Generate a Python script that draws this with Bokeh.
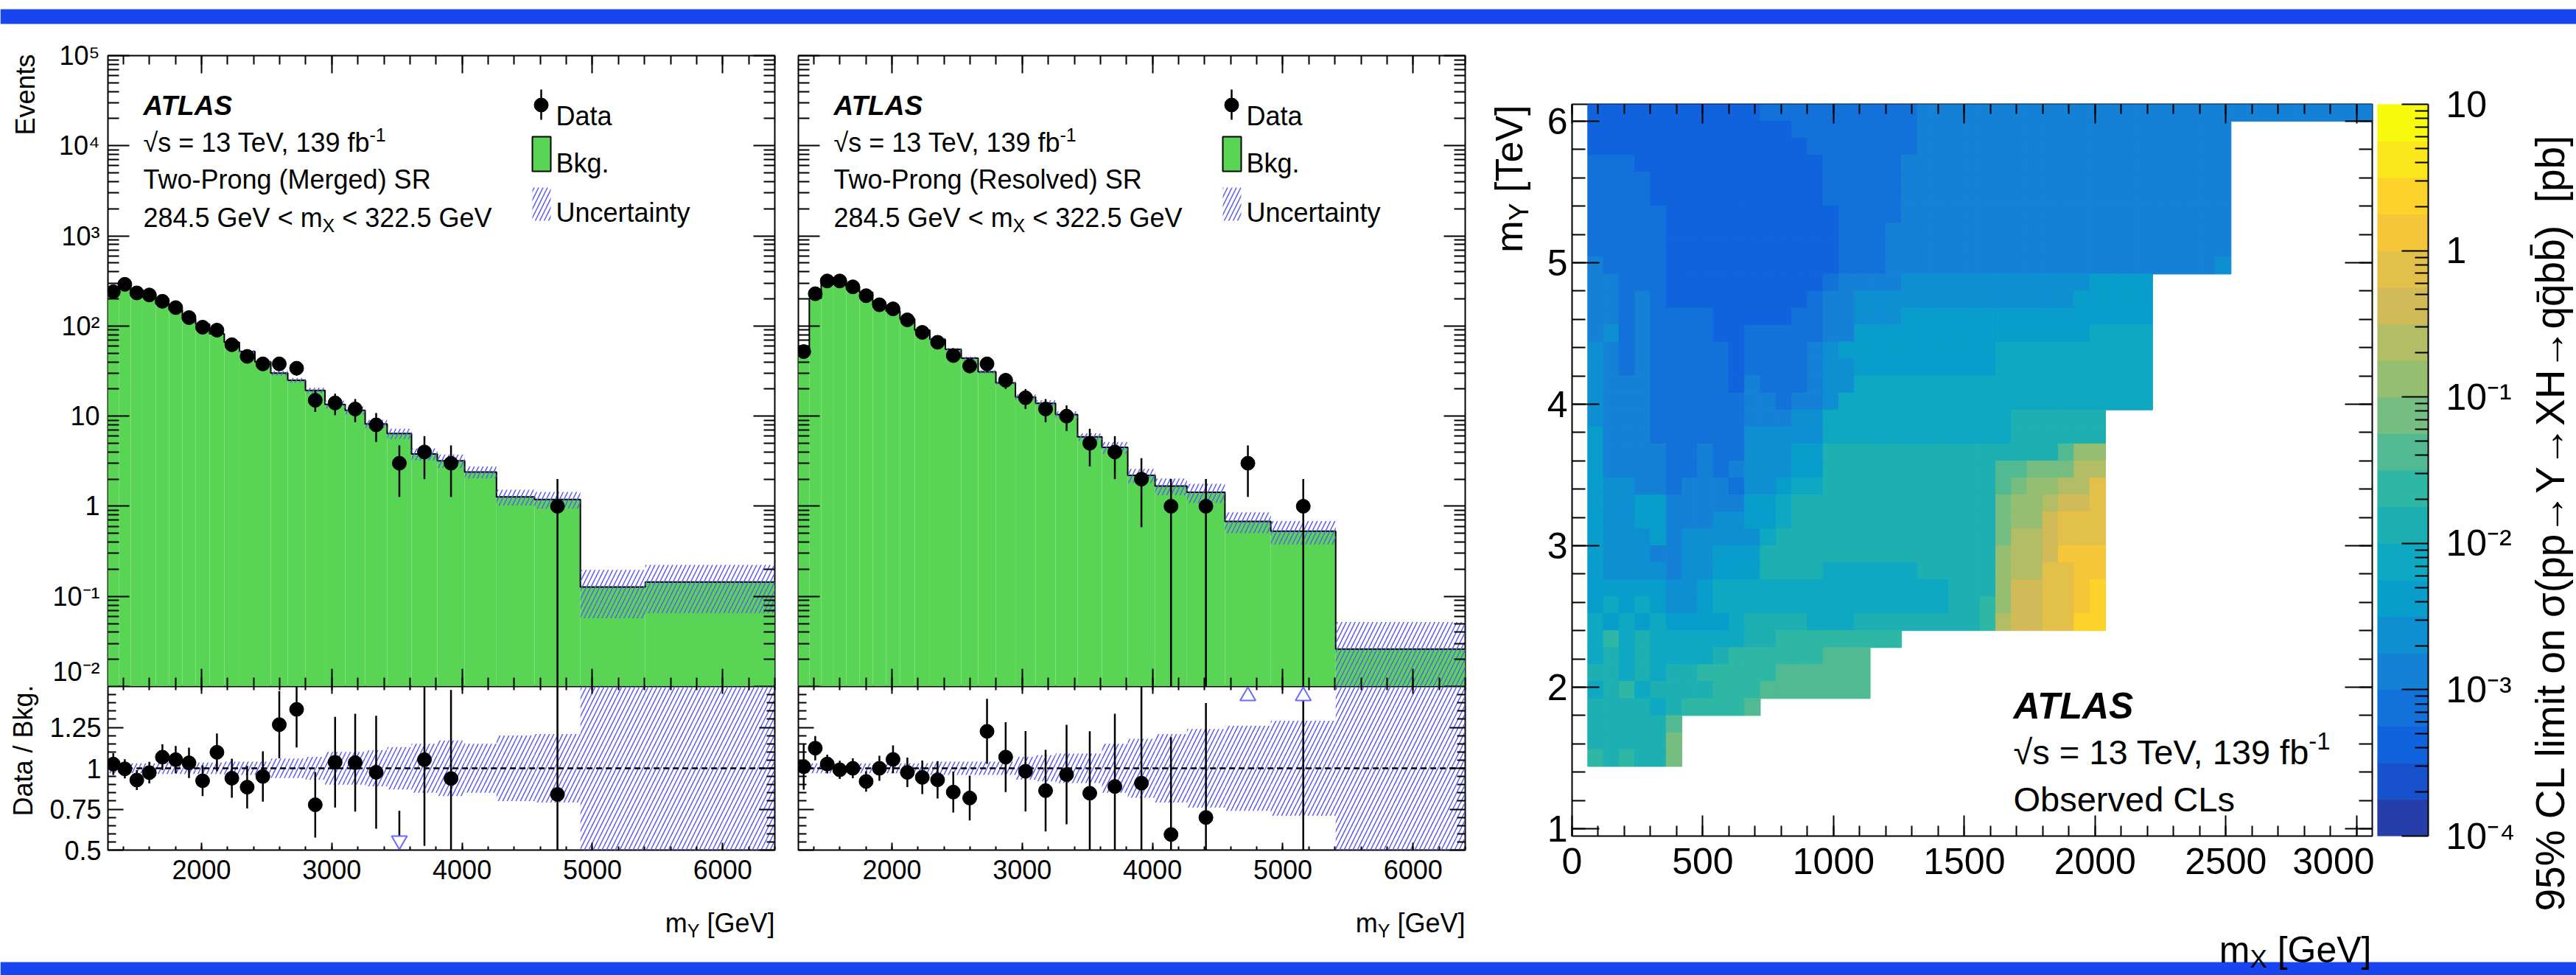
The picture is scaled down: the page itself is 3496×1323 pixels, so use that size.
import math
import os
import glob

from bokeh.plotting import figure
from bokeh.models import (Range1d, LinearScale, LinearAxis, LogAxis, FixedTicker,
                          SingleIntervalTicker, CustomJSTickFormatter, Label,
                          LogColorMapper, ColumnDataSource, GridBox)
from bokeh.layouts import row, column
from bokeh.embed import file_html
from bokeh.resources import INLINE

# ============================ data ============================
MY_BIN_EDGES = [1280, 1366, 1457, 1550, 1649, 1751, 1853, 1955, 2062, 2175, 2291, 2410, 2532,
                2662, 2798, 2948, 3103, 3256, 3425, 3612, 3810, 4020, 4264, 4556, 4908, 5406, 6400]

MERGED_DATA = [240, 290, 233, 221, 188, 160, 124, 97, 90, 62, 46, 38, 38, 34, 15, 14, 12, 8, 3, 4,
               3, 0, 0, 1, 0, 0]
MERGED_BKG = [234, 291, 251, 227, 176, 152, 120, 105, 82, 66, 52, 40, 30, 25, 19.3, 13.5, 11.6,
              8.2, 6.4, 3.8, 3.2, 2.4, 1.27, 1.19, 0.127, 0.144]
MERGED_UNC = [0.03, 0.03, 0.03, 0.03, 0.035, 0.035, 0.035, 0.035, 0.035, 0.04, 0.04, 0.04, 0.06,
              0.06, 0.07, 0.10, 0.10, 0.11, 0.13, 0.15, 0.17, 0.15, 0.20, 0.21, 0.55, 0.55]

RESOLVED_DATA = [52, 228, 316, 316, 272, 217, 172, 155, 117, 85, 66, 47, 36, 38, 25, 16, 12, 10,
                 5, 4, 2, 1, 1, 3, 1, 0]
RESOLVED_BKG = [51.5, 203, 308, 319, 272, 236, 172, 147, 120, 90, 71, 55, 44, 31, 23.4, 16.3,
                13.9, 10.4, 5.9, 4.5, 2.2, 1.68, 1.43, 0.68, 0.53, 0.026]
RESOLVED_UNC = [0.03, 0.03, 0.03, 0.03, 0.03, 0.03, 0.03, 0.03, 0.03, 0.03, 0.04, 0.04, 0.04,
                0.04, 0.04, 0.07, 0.08, 0.09, 0.09, 0.15, 0.18, 0.21, 0.24, 0.26, 0.29, 1.0]

HIST_X_RANGE = (1282, 6400)
MAIN_Y_RANGE = (1e-2, 1e5)
RATIO_Y_RANGE = (0.5, 1.5)

# 2D limit map: cells of 60 GeV (m_X) x 0.12 TeV (m_Y); each row (top row first) is a list of
# (colour level, number of cells) runs starting at the first m_X cell; the rest of a row is empty.
# level k means a limit between 10^(-4 + k/4) and 10^(-4 + (k+1)/4) pb.
MX_FIRST_EDGE = 60.0
MX_BIN_WIDTH = 60.0
MY_TOP_EDGE = 6.12
MY_BIN_WIDTH = 0.12
HEAT_X_RANGE = (0, 3060)
HEAT_Y_RANGE = (0.948, 6.12)
LIMIT_RANGE = (1e-4, 10.0)
LEVELS_PER_DECADE = 4
HEAT_RUNS = [
    [(2, 11), (3, 10), (4, 29)],
    [(2, 13), (3, 8), (4, 20)],
    [(2, 14), (3, 7), (4, 20)],
    [(3, 3), (2, 12), (3, 5), (4, 21)],
    [(3, 4), (2, 11), (3, 5), (4, 21)],
    [(3, 4), (2, 11), (3, 5), (4, 21)],
    [(3, 5), (2, 11), (3, 4), (4, 21)],
    [(3, 5), (2, 11), (3, 3), (4, 22)],
    [(3, 5), (2, 11), (3, 3), (4, 22)],
    [(4, 1), (3, 4), (2, 11), (3, 3), (4, 21), (5, 1)],
    [(4, 2), (3, 3), (2, 10), (3, 1), (4, 4), (5, 12), (6, 4)],
    [(4, 2), (3, 1), (4, 1), (3, 1), (2, 9), (3, 1), (4, 2), (5, 14), (6, 5)],
    [(4, 2), (3, 1), (4, 1), (3, 4), (2, 5), (3, 2), (4, 2), (5, 3), (6, 16)],
    [(4, 1), (5, 1), (3, 1), (4, 1), (3, 4), (2, 2), (3, 5), (4, 2), (6, 15), (7, 4)],
    [(5, 1), (4, 1), (3, 1), (4, 1), (3, 5), (2, 1), (3, 4), (4, 1), (5, 1), (6, 10), (7, 10)],
    [(5, 1), (4, 1), (3, 1), (4, 1), (3, 5), (2, 1), (3, 4), (4, 1), (5, 2), (6, 9), (7, 10)],
    [(5, 1), (4, 3), (3, 5), (2, 1), (4, 1), (3, 3), (4, 1), (5, 2), (7, 19)],
    [(5, 1), (4, 3), (3, 6), (4, 2), (3, 1), (4, 2), (5, 1), (7, 20)],
    [(5, 1), (4, 3), (3, 6), (4, 3), (5, 2), (7, 12), (8, 6)],
    [(6, 1), (4, 3), (3, 6), (5, 5), (7, 12), (8, 6)],
    [(6, 1), (4, 4), (3, 2), (4, 1), (3, 2), (5, 3), (6, 2), (8, 15), (10, 1), (12, 2)],
    [(6, 1), (4, 4), (3, 2), (4, 1), (3, 1), (4, 1), (5, 3), (6, 2), (8, 11), (10, 2), (11, 3), (13, 2)],
    [(6, 1), (5, 2), (4, 2), (3, 1), (4, 3), (3, 1), (5, 2), (6, 1), (7, 2), (8, 11), (10, 1), (11, 1),
     (12, 2), (13, 2), (15, 1)],
    [(6, 1), (5, 2), (6, 2), (4, 5), (6, 2), (7, 1), (8, 13), (11, 1), (12, 2), (13, 1), (14, 2), (15, 1)],
    [(6, 1), (5, 2), (6, 2), (4, 3), (5, 2), (6, 2), (7, 1), (8, 13), (11, 1), (12, 2), (14, 1), (15, 3)],
    [(6, 1), (5, 3), (6, 1), (4, 1), (5, 5), (7, 1), (8, 14), (11, 1), (13, 2), (14, 1), (15, 3)],
    [(6, 1), (5, 3), (4, 2), (5, 2), (6, 3), (8, 15), (12, 1), (13, 2), (14, 1), (16, 3)],
    [(6, 1), (5, 4), (4, 1), (5, 2), (6, 3), (8, 4), (7, 6), (8, 5), (12, 1), (13, 2), (15, 2), (16, 2)],
    [(6, 5), (5, 2), (6, 1), (7, 15), (8, 3), (12, 1), (14, 2), (15, 2), (16, 1), (17, 1)],
    [(6, 1), (7, 1), (6, 1), (7, 1), (6, 1), (5, 2), (6, 1), (7, 15), (8, 2), (9, 1), (12, 1), (14, 2),
     (15, 2), (16, 1), (17, 1)],
    [(7, 1), (6, 1), (7, 1), (6, 1), (7, 1), (6, 4), (7, 1), (8, 4), (7, 3), (8, 8), (9, 1), (13, 1),
     (14, 2), (15, 2), (17, 2)],
    [(7, 1), (9, 1), (7, 1), (8, 1), (7, 6), (8, 2), (9, 8)],
    [(7, 1), (8, 1), (7, 1), (8, 1), (7, 4), (8, 1), (9, 6), (10, 3)],
    [(8, 2), (7, 1), (8, 1), (7, 1), (8, 2), (9, 5), (10, 6)],
    [(7, 1), (8, 1), (9, 1), (7, 1), (8, 4), (9, 3), (10, 7)],
    [(8, 4), (7, 1), (8, 1), (9, 4), (10, 1)],
    [(8, 5), (10, 1)],
    [(8, 5), (11, 1)],
    [(9, 1), (8, 1), (9, 1), (8, 2), (11, 1)],
]

# ============================ style ============================
FONT = "Liberation Sans"
GREEN = "#59d454"
HATCH = "#5c5cf0"
ARROW = "#6a6aff"
BAND = "#1845f0"
NBSP = "\u00a0"

PAGE_W, PAGE_H = 3496, 1323

BIRD_R = [0.2082, 0.0592, 0.0780, 0.0232, 0.1802, 0.5301, 0.8186, 0.9956, 0.9764]
BIRD_G = [0.1664, 0.3599, 0.5041, 0.6419, 0.7178, 0.7492, 0.7328, 0.7862, 0.9832]
BIRD_B = [0.5293, 0.8684, 0.8385, 0.7914, 0.6425, 0.4662, 0.3499, 0.1968, 0.0539]


def bird(f):
    pos = min(max(f, 0.0), 1.0) * 8
    i = min(int(pos), 7)
    t = pos - i
    c = [(a[i] + (a[i + 1] - a[i]) * t) for a in (BIRD_R, BIRD_G, BIRD_B)]
    return "#%02x%02x%02x" % tuple(int(round(255 * v)) for v in c)


N_LEVELS = int(round(math.log10(LIMIT_RANGE[1] / LIMIT_RANGE[0]) * LEVELS_PER_DECADE))
PALETTE = [bird((k + 1) / N_LEVELS) for k in range(N_LEVELS)]

# ============================ text helpers ============================
_PATHS = {}
_FONTS = {}


def font_path(bold, italic):
    key = (bold, italic)
    if key not in _PATHS:
        style = {(False, False): "Regular", (True, False): "Bold",
                 (False, True): "Italic", (True, True): "BoldItalic"}[key]
        fname = "LiberationSans-%s.ttf" % style
        found = None
        for d in ("/usr/share/fonts", "/usr/local/share/fonts", os.path.expanduser("~/.fonts")):
            hits = glob.glob(os.path.join(d, "**", fname), recursive=True)
            if hits:
                found = hits[0]
                break
        _PATHS[key] = found
    return _PATHS[key]


def tw(text, size, bold=False, italic=False):
    text = text.replace(NBSP, " ")
    try:
        from PIL import ImageFont
        path = font_path(bold, italic)
        if path:
            key = (path, int(round(size)))
            if key not in _FONTS:
                _FONTS[key] = ImageFont.truetype(path, int(round(size)))
            return _FONTS[key].getlength(text)
    except Exception:
        pass
    return 0.56 * size * len(text)


def rich(p, x, y, parts, angle=0.0, align="left"):
    """parts: (text, size, dy, bold, italic); x, y in frame pixels (origin bottom-left)."""
    ws = [tw(t, s, b, i) for (t, s, dy, b, i) in parts]
    along = 0.0 if align == "left" else -sum(ws)
    ca, sa = math.cos(angle), math.sin(angle)
    for (t, s, dy, b, i), w in zip(parts, ws):
        px = x + along * ca - dy * sa
        py = y + along * sa + dy * ca
        style = "bold italic" if (b and i) else ("bold" if b else ("italic" if i else "normal"))
        p.add_layout(Label(x=px, y=py, x_units="screen", y_units="screen", text=t,
                           text_font=FONT, text_font_size="%dpx" % s, text_font_style=style,
                           text_color="black", angle=angle, text_align="left",
                           text_baseline="alphabetic"))
        along += w


def T(text, size, dy=0, bold=False, italic=False):
    return (text, size, dy, bold, italic)


LOG_JS = """
const e = Math.round(Math.log10(tick));
if (e === 0) { return "1"; }
if (e === 1) { return "10"; }
const m = {"-": "\u207b", "0": "\u2070", "1": "\u00b9", "2": "\u00b2", "3": "\u00b3",
           "4": "\u2074", "5": "\u2075", "6": "\u2076", "7": "\u2077", "8": "\u2078", "9": "\u2079"};
let s = "";
for (const ch of String(e)) { s += m[ch]; }
return "10" + s;
"""


def log_fmt():
    return CustomJSTickFormatter(code=LOG_JS)


def num_fmt():
    return CustomJSTickFormatter(code="return String(Math.round(tick*1000)/1000);")


def ticks(ax, major, minor, width=2):
    ax.major_tick_in = major
    ax.major_tick_out = 0
    ax.minor_tick_in = minor
    ax.minor_tick_out = 0
    ax.major_tick_line_color = "black"
    ax.minor_tick_line_color = "black"
    ax.major_tick_line_width = width
    ax.minor_tick_line_width = width
    ax.axis_line_color = None
    ax.axis_label = None


def no_labels(ax):
    ax.major_label_text_alpha = 0.0
    ax.major_label_text_font_size = "0px"
    ax.major_label_standoff = 0
    ax.formatter = CustomJSTickFormatter(code="return '';")


def labels(ax, size, standoff, fmt):
    ax.formatter = fmt
    ax.major_label_text_font = FONT
    ax.major_label_text_font_size = "%dpx" % size
    ax.major_label_text_color = "black"
    ax.major_label_standoff = standoff


def base(p):
    p.grid.visible = False
    p.outline_line_color = "black"
    p.outline_line_width = 2
    p.background_fill_color = "white"
    p.border_fill_color = "white"


def log_ticker(lo_exp, hi_exp):
    major = [10.0 ** k for k in range(lo_exp, hi_exp + 1)]
    minor = [m * 10.0 ** k for k in range(lo_exp, hi_exp) for m in range(2, 10)]
    return FixedTicker(ticks=major, minor_ticks=minor)


LOG_LO = int(round(math.log10(MAIN_Y_RANGE[0])))
LOG_HI = int(round(math.log10(MAIN_Y_RANGE[1])))

# ============================ layout geometry (pixels) ============================
TOP_BAND_H = 40
BOTTOM_BAND_H = 23
MAIN_H, MAIN_BT = 891, 35
RATIO_H, RATIO_BB = 369, 147
MAIN_FH = MAIN_H - MAIN_BT
RATIO_FH = RATIO_H - RATIO_BB


def main_panel(data, bkg, unc, region, fig_w, bl, br, first, x_range):
    fw = fig_w - bl - br
    fh = MAIN_FH
    p = figure(width=fig_w, height=MAIN_H, x_range=x_range, y_range=Range1d(*MAIN_Y_RANGE),
               y_axis_type="log", output_backend="svg", toolbar_location=None, title=None,
               min_border_left=bl, min_border_right=br, min_border_top=MAIN_BT, min_border_bottom=0)
    base(p)
    xa = p.xaxis[0]
    xa.ticker = SingleIntervalTicker(interval=1000, num_minor_ticks=5)
    ticks(xa, 24, 12)
    no_labels(xa)
    ya = p.yaxis[0]
    ya.ticker = log_ticker(LOG_LO, LOG_HI)
    ticks(ya, 29, 15)
    if first:
        labels(ya, 36, 11, log_fmt())
    else:
        no_labels(ya)
    top = LinearAxis(ticker=SingleIntervalTicker(interval=1000, num_minor_ticks=5))
    ticks(top, 24, 12)
    no_labels(top)
    p.add_layout(top, "above")
    right = LogAxis(ticker=log_ticker(LOG_LO, LOG_HI))
    ticks(right, 29, 15)
    no_labels(right)
    p.add_layout(right, "right")

    n = len(bkg)
    left_e = MY_BIN_EDGES[:-1]
    right_e = MY_BIN_EDGES[1:]
    floor = MAIN_Y_RANGE[0] / 100
    p.quad(left=left_e, right=right_e, bottom=[floor] * n, top=bkg, fill_color=GREEN, line_color=None)
    p.step(x=MY_BIN_EDGES, y=list(bkg) + [bkg[-1]], mode="after", line_color="black", line_width=2)
    p.quad(left=left_e, right=right_e,
           bottom=[max(b * (1 - u), floor) for b, u in zip(bkg, unc)],
           top=[b * (1 + u) for b, u in zip(bkg, unc)],
           fill_color=None, line_color=None, hatch_pattern="/", hatch_color=HATCH,
           hatch_weight=1.5, hatch_scale=12)
    xs = [(a + b) / 2 for a, b, d in zip(left_e, right_e, data) if d > 0]
    ys = [d for d in data if d > 0]
    p.segment(x0=xs, y0=[max(d - math.sqrt(d), floor) for d in ys], x1=xs,
              y1=[d + math.sqrt(d) for d in ys], line_color="black", line_width=2.5)
    p.scatter(x=xs, y=ys, size=19, marker="circle", fill_color="black", line_color="black")

    # legend drawn in frame pixel coordinates
    p.extra_x_ranges = {"px": Range1d(0, fw)}
    p.extra_y_ranges = {"px": Range1d(0, fh)}
    p.extra_x_scales = {"px": LinearScale()}
    p.extra_y_scales = {"px": LinearScale()}
    kw = dict(x_range_name="px", y_range_name="px")
    p.segment(x0=[588], y0=[fh - 87], x1=[588], y1=[fh - 46], line_color="black", line_width=2.5, **kw)
    p.scatter(x=[588], y=[fh - 67], size=19, marker="circle", color="black", **kw)
    p.quad(left=[576], right=[601], bottom=[fh - 157], top=[fh - 110], fill_color=GREEN,
           line_color="black", line_width=2, **kw)
    p.quad(left=[576], right=[601], bottom=[fh - 224], top=[fh - 179], fill_color=None,
           line_color=None, hatch_pattern="/", hatch_color=HATCH, hatch_weight=1.5,
           hatch_scale=12, **kw)
    rich(p, 608, fh - 82, [T("Data", 36)])
    rich(p, 608, fh - 146, [T("Bkg.", 36)])
    rich(p, 608, fh - 213, [T("Uncertainty", 36)])

    rich(p, 48, fh - 68, [T("ATLAS", 37, 0, True, True)])
    rich(p, 48, fh - 118, [T("\u221as = 13 TeV, 139 fb", 36), T("-1", 25, 11)])
    rich(p, 48, fh - 168, [T(region, 36)])
    rich(p, 48, fh - 220, [T("284.5 GeV < m", 36), T("X", 25, -10), T(NBSP + "< 322.5 GeV", 36)])
    return p


def ratio_panel(data, bkg, unc, fig_w, bl, br, first, x_range):
    fh = RATIO_FH
    p = figure(width=fig_w, height=RATIO_H, x_range=x_range, y_range=Range1d(*RATIO_Y_RANGE),
               output_backend="svg", toolbar_location=None, title=None,
               min_border_left=bl, min_border_right=br, min_border_top=0, min_border_bottom=RATIO_BB)
    base(p)
    xa = p.xaxis[0]
    xa.ticker = SingleIntervalTicker(interval=1000, num_minor_ticks=5)
    ticks(xa, 10, 5)
    labels(xa, 36, 13, num_fmt())
    top = LinearAxis(ticker=SingleIntervalTicker(interval=1000, num_minor_ticks=5))
    ticks(top, 10, 5)
    no_labels(top)
    p.add_layout(top, "above")
    rmaj = [0.5, 0.75, 1.0, 1.25]
    rmin = [round(0.5 + 0.05 * k, 2) for k in range(1, 20) if k % 5 != 0]
    ya = p.yaxis[0]
    ya.ticker = FixedTicker(ticks=rmaj, minor_ticks=rmin)
    ticks(ya, 21, 11)
    if first:
        labels(ya, 36, 9, num_fmt())
    else:
        no_labels(ya)
    right = LinearAxis(ticker=FixedTicker(ticks=rmaj, minor_ticks=rmin))
    ticks(right, 21, 11)
    no_labels(right)
    p.add_layout(right, "right")

    left_e = MY_BIN_EDGES[:-1]
    right_e = MY_BIN_EDGES[1:]
    p.quad(left=left_e, right=right_e, bottom=[1 - u for u in unc], top=[1 + u for u in unc],
           fill_color=None, line_color=None, hatch_pattern="/", hatch_color=HATCH,
           hatch_weight=1.5, hatch_scale=12)
    p.line(x=[MY_BIN_EDGES[0], MY_BIN_EDGES[-1]], y=[1, 1], line_color="black", line_width=2.5,
           line_dash="8 5")

    lo_r, hi_r = RATIO_Y_RANGE
    off = (hi_r - lo_r) / fh * 13
    xs, ys = [], []
    ex, e0, e1 = [], [], []
    up_x, dn_x = [], []
    for a, b, d, bk in zip(left_e, right_e, data, bkg):
        if d <= 0:
            continue
        c = (a + b) / 2
        r = d / bk
        e = math.sqrt(d) / bk
        ex.append(c)
        e0.append(r - e)
        e1.append(r + e)
        if r > hi_r:
            up_x.append(c)
        elif r < lo_r:
            dn_x.append(c)
        else:
            xs.append(c)
            ys.append(r)
    p.segment(x0=ex, y0=e0, x1=ex, y1=e1, line_color="black", line_width=2.5)
    p.scatter(x=xs, y=ys, size=19, marker="circle", fill_color="black", line_color="black")
    if up_x:
        p.scatter(x=up_x, y=[hi_r - off] * len(up_x), size=21, marker="triangle",
                  fill_color="white", line_color=ARROW, line_width=2)
    if dn_x:
        p.scatter(x=dn_x, y=[lo_r + off] * len(dn_x), size=21, marker="inverted_triangle",
                  fill_color="white", line_color=ARROW, line_width=2)
    return p


# ============================ histogram columns ============================
C1_W, C1_BL, C1_BR = 1067, 146, 16
C2_W, C2_BL, C2_BR = 973, 16, 52

xr1 = Range1d(*HIST_X_RANGE)
xr2 = Range1d(*HIST_X_RANGE)
m1 = main_panel(MERGED_DATA, MERGED_BKG, MERGED_UNC, "Two-Prong (Merged) SR", C1_W, C1_BL, C1_BR, True, xr1)
r1 = ratio_panel(MERGED_DATA, MERGED_BKG, MERGED_UNC, C1_W, C1_BL, C1_BR, True, xr1)
m2 = main_panel(RESOLVED_DATA, RESOLVED_BKG, RESOLVED_UNC, "Two-Prong (Resolved) SR", C2_W, C2_BL, C2_BR, False, xr2)
r2 = ratio_panel(RESOLVED_DATA, RESOLVED_BKG, RESOLVED_UNC, C2_W, C2_BL, C2_BR, False, xr2)

# ============================ limit map ============================
H_W, H_BL, H_BR = 1182, 93, 3
H_H, H_BT, H_BB = 1260, 101, 166

h = figure(width=H_W, height=H_H, x_range=Range1d(*HEAT_X_RANGE), y_range=Range1d(*HEAT_Y_RANGE),
           output_backend="svg", toolbar_location=None, title=None,
           min_border_left=H_BL, min_border_right=H_BR, min_border_top=H_BT, min_border_bottom=H_BB)
base(h)
hx = h.xaxis[0]
hx.ticker = SingleIntervalTicker(interval=500, num_minor_ticks=5)
ticks(hx, 28, 14)
labels(hx, 50, 16, num_fmt())
hy = h.yaxis[0]
hy.ticker = SingleIntervalTicker(interval=1, num_minor_ticks=5)
ticks(hy, 37, 18)
labels(hy, 50, 6, num_fmt())
ht = LinearAxis(ticker=SingleIntervalTicker(interval=500, num_minor_ticks=5))
ticks(ht, 26, 13)
no_labels(ht)
h.add_layout(ht, "above")
hr = LinearAxis(ticker=SingleIntervalTicker(interval=1, num_minor_ticks=5))
ticks(hr, 37, 18)
no_labels(hr)
h.add_layout(hr, "right")

cells = dict(left=[], right=[], bottom=[], top=[], limit=[])
for ri, runs in enumerate(HEAT_RUNS):
    col = 0
    for level, count in runs:
        for _ in range(count):
            cells["left"].append(MX_FIRST_EDGE + MX_BIN_WIDTH * col)
            cells["right"].append(MX_FIRST_EDGE + MX_BIN_WIDTH * (col + 1))
            cells["bottom"].append(MY_TOP_EDGE - MY_BIN_WIDTH * (ri + 1))
            cells["top"].append(MY_TOP_EDGE - MY_BIN_WIDTH * ri)
            cells["limit"].append(LIMIT_RANGE[0] * 10 ** ((level + 0.5) / LEVELS_PER_DECADE))
            col += 1
mapper = LogColorMapper(palette=PALETTE, low=LIMIT_RANGE[0], high=LIMIT_RANGE[1])
h.quad(left="left", right="right", bottom="bottom", top="top", source=ColumnDataSource(cells),
       fill_color={"field": "limit", "transform": mapper},
       line_color={"field": "limit", "transform": mapper}, line_width=1)

rich(h, 599, 177, [T("ATLAS", 50, 0, True, True)])
rich(h, 599, 114, [T("\u221as = 13 TeV, 139 fb", 47), T("-1", 33, 15)])
rich(h, 599, 50, [T("Observed CLs", 47)])

# ============================ colour scale ============================
CB_W, CB_BL, CB_BR = 274, 4, 201
cb = figure(width=CB_W, height=H_H, x_range=Range1d(0, 1), y_range=Range1d(*LIMIT_RANGE),
            y_axis_type="log", x_axis_location=None, y_axis_location="right",
            output_backend="svg", toolbar_location=None, title=None,
            min_border_left=CB_BL, min_border_right=CB_BR, min_border_top=H_BT, min_border_bottom=H_BB)
cb.grid.visible = False
cb.outline_line_color = None
cb.background_fill_color = "white"
cb.border_fill_color = "white"
lev_lo = [LIMIT_RANGE[0] * 10 ** (k / LEVELS_PER_DECADE) for k in range(N_LEVELS)]
lev_hi = [LIMIT_RANGE[0] * 10 ** ((k + 1) / LEVELS_PER_DECADE) for k in range(N_LEVELS)]
cb.quad(left=[0] * N_LEVELS, right=[1] * N_LEVELS, bottom=lev_lo, top=lev_hi,
        fill_color=PALETTE, line_color=PALETTE, line_width=1)
ca = cb.yaxis[0]
ca.ticker = log_ticker(int(round(math.log10(LIMIT_RANGE[0]))), int(round(math.log10(LIMIT_RANGE[1]))))
ticks(ca, 36, 18)
ca.axis_line_color = "black"
ca.axis_line_width = 2
labels(ca, 50, 24, log_fmt())

# ============================ decorative page bands ============================


def band_fig(height, y0, y1):
    f = figure(width=PAGE_W, height=height, x_range=Range1d(0, 1), y_range=Range1d(0, height),
               x_axis_location=None, y_axis_location=None, output_backend="svg",
               toolbar_location=None, title=None, min_border=0)
    f.grid.visible = False
    f.outline_line_color = None
    f.background_fill_color = "white"
    f.border_fill_color = "white"
    f.quad(left=[0], right=[1], bottom=[y0], top=[y1], fill_color=BAND, line_color=None)
    return f


top_band = band_fig(TOP_BAND_H, 8, 28)
bottom_band = band_fig(BOTTOM_BAND_H, 0, 18)

page = column(top_band,
              row(column(m1, r1, spacing=0), column(m2, r2, spacing=0), h, cb, spacing=0),
              bottom_band, spacing=0)

# ============================ transparent overlay for titles outside the frames ============================
ov = figure(width=PAGE_W, height=PAGE_H, x_range=Range1d(0, PAGE_W), y_range=Range1d(0, PAGE_H),
            x_axis_location=None, y_axis_location=None, output_backend="svg",
            toolbar_location=None, title=None, min_border=0,
            min_border_left=0, min_border_right=0, min_border_top=0, min_border_bottom=0)
ov.grid.visible = False
ov.outline_line_color = None
ov.background_fill_color = None
ov.border_fill_color = None


def up(y_page):
    return PAGE_H - y_page


rich(ov, 34, up(73), [T("Events", 36)], angle=math.pi / 2, align="right")
rich(ov, 31, up(929), [T("Data / Bkg.", 36)], angle=math.pi / 2, align="right")
rich(ov, 1051, up(1252), [T("m", 36), T("Y", 25, -10), T(NBSP + "[GeV]", 36)], align="right")
rich(ov, 1988, up(1252), [T("m", 36), T("Y", 25, -10), T(NBSP + "[GeV]", 36)], align="right")
rich(ov, 3218, up(1288), [T("m", 50), T("X", 35, -12), T(NBSP + "[GeV]", 50)], align="right")
rich(ov, 2047, up(142), [T("m", 52), T("Y", 36, -14), T(NBSP + "[TeV]", 52)], angle=math.pi / 2, align="right")

CB_TITLE = "95% CL limit on \u03c3(pp\u2192Y\u2192XH\u2192qq\u0304bb\u0304)" + NBSP + NBSP + "[pb]"
rich(ov, 3460, up(1236), [T(CB_TITLE, 55)], angle=math.pi / 2)

outer = GridBox(children=[(page, 0, 0), (ov, 0, 0)])

open("out.html", "w").write(file_html(outer, INLINE))
